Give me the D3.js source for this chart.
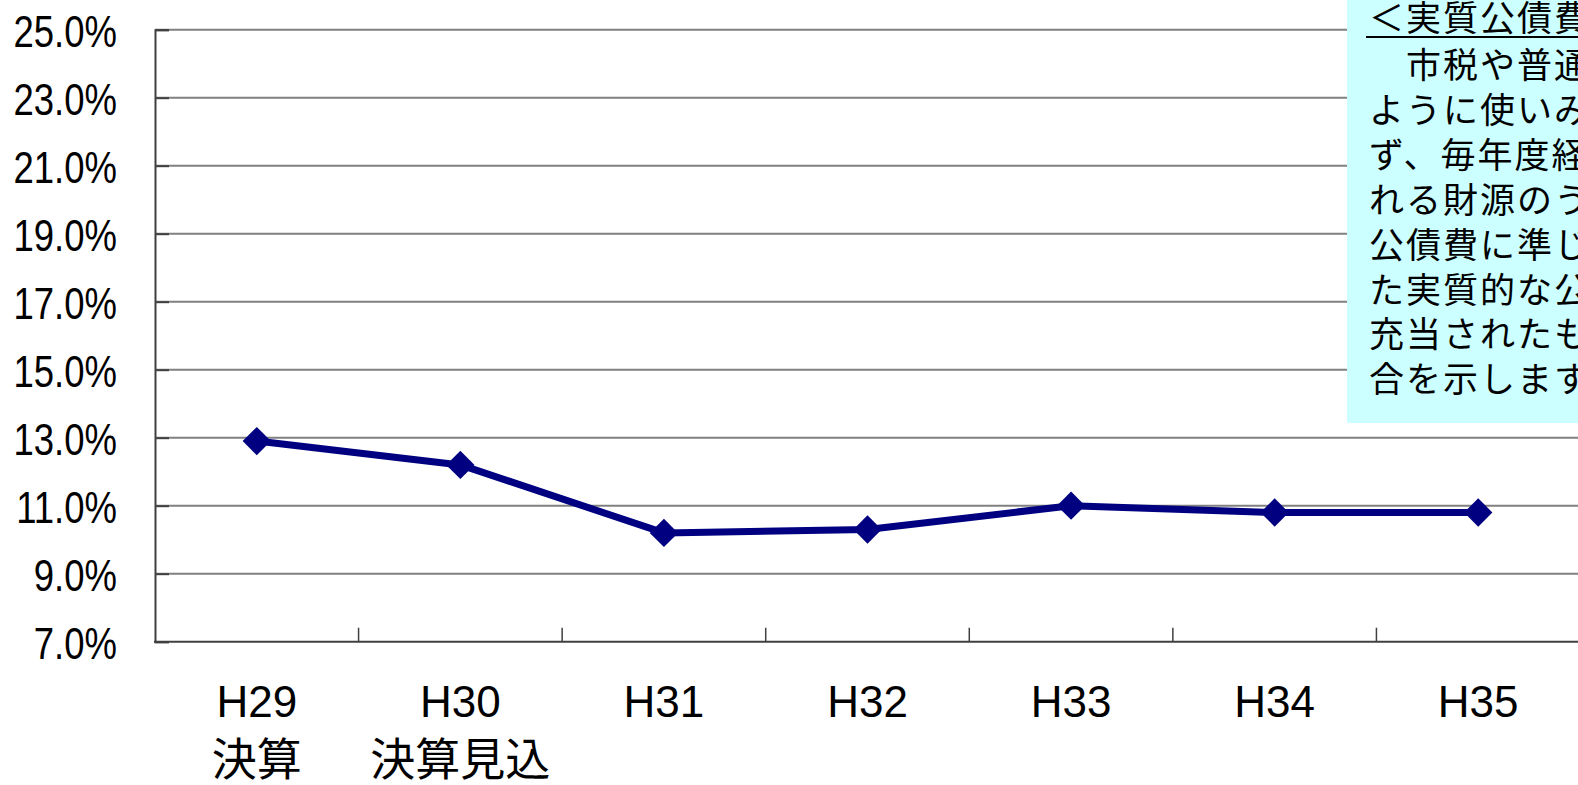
<!DOCTYPE html>
<html lang="ja">
<head>
<meta charset="UTF-8">
<title>実質公債費比率</title>
<script src="https://cdnjs.cloudflare.com/ajax/libs/d3/7.9.0/d3.min.js"></script>
<style>
  html,body{margin:0;padding:0;background:#fff;overflow:hidden}
  svg{display:block}
</style>
</head>
<body>
<div id="chart"></div>
<script>
/* ---------- data ---------- */
const categories = ["H29","H30","H31","H32","H33","H34","H35"];
const subLabels  = ["決算","決算見込","","","","",""];
const ratios     = [12.9,12.2,10.2,10.3,11.0,10.8,10.8];
const yTicks     = [7,9,11,13,15,17,19,21,23,25];
const noteTitle  = "＜実質公債費比率＞";
const noteLines  = [
  "　市税や普通交付税の",
  "ように使いみちが特定され",
  "ず、毎年度経常的に収入さ",
  "れる財源のうち、公債費や",
  "公債費に準じる経費に充て",
  "た実質的な公債費相当額に",
  "充当されたものの占める割",
  "合を示します。"
];

/* ---------- layout ---------- */
const W = 1578, H = 785;
const plotL = 155, plotR = 1580, plotT = 29.7, plotB = 641.7;

const svg = d3.select("#chart").append("svg")
    .attr("width",W).attr("height",H);

const x = d3.scaleBand().domain(categories).range([plotL,plotR]).padding(0);
const y = d3.scaleLinear().domain([7,25]).range([plotB,plotT]);

// gridlines
svg.append("g").selectAll("line")
  .data(yTicks.filter(d=>d>7))
  .enter().append("line")
    .attr("x1",plotL).attr("x2",W)
    .attr("y1",d=>y(d)).attr("y2",d=>y(d))
    .attr("stroke","#808080").attr("stroke-width",2);

// y axis with inward ticks
const yAxis = svg.append("g")
  .attr("transform",`translate(${plotL},0)`)
  .call(d3.axisRight(y).tickValues(yTicks).tickSize(14).tickFormat(""));
yAxis.selectAll("line").attr("stroke","#404040").attr("stroke-width",2);
yAxis.select(".domain").attr("stroke","#404040").attr("stroke-width",2);

// y labels (condensed horizontally like the narrow gothic of the original)
svg.append("g").selectAll("text")
  .data(yTicks)
  .enter().append("text")
    .attr("transform",d=>`translate(117,${y(d)+2}) scale(0.83,1)`)
    .attr("text-anchor","end").attr("dominant-baseline","central")
    .attr("font-family","'Liberation Sans',Arial,sans-serif")
    .attr("font-size",44).attr("fill","#000")
    .text(d=>d.toFixed(1)+"%");

// x axis: ticks at category boundaries, pointing up
const xg = svg.append("g");
xg.append("line")
  .attr("x1",plotL-1).attr("x2",W)
  .attr("y1",plotB).attr("y2",plotB)
  .attr("stroke","#404040").attr("stroke-width",2);
xg.selectAll("line.tick")
  .data(categories.slice(1))
  .enter().append("line").attr("class","tick")
    .attr("x1",d=>x(d)).attr("x2",d=>x(d))
    .attr("y1",plotB).attr("y2",plotB-14)
    .attr("stroke","#404040").attr("stroke-width",1.5);

// x labels
xg.selectAll("text.cat")
  .data(categories)
  .enter().append("text").attr("class","cat")
    .attr("x",d=>x(d)+x.bandwidth()/2).attr("y",717)
    .attr("text-anchor","middle")
    .attr("font-family","'Liberation Sans',Arial,sans-serif")
    .attr("font-size",44).attr("fill","#000")
    .text(d=>d);
xg.selectAll("text.sub")
  .data(categories.map((c,i)=>({c,t:subLabels[i]})).filter(d=>d.t))
  .enter().append("text").attr("class","sub")
    .attr("x",d=>x(d.c)+x.bandwidth()/2).attr("y",776)
    .attr("text-anchor","middle")
    .attr("font-family","'Noto Sans CJK JP',sans-serif")
    .attr("font-size",45).attr("fill","#000")
    .text(d=>d.t);

// note box
const note = svg.append("g");
note.append("rect")
  .attr("x",1347).attr("y",-2).attr("width",W-1347+2).attr("height",425)
  .attr("fill","#ccffff");
note.append("text")
  .attr("x",1369).attr("y",31)
  .attr("font-family","'Noto Sans CJK JP',sans-serif")
  .attr("font-size",35).attr("letter-spacing",2).attr("fill","#000")
  .text(noteTitle);
note.append("line")
  .attr("x1",1366).attr("x2",W)
  .attr("y1",37).attr("y2",37)
  .attr("stroke","#000").attr("stroke-width",2);
note.selectAll("text.body")
  .data(noteLines)
  .enter().append("text").attr("class","body")
    .attr("x",1369).attr("y",(d,i)=>78+i*44.9)
    .attr("font-family","'Noto Sans CJK JP',sans-serif")
    .attr("font-size",35).attr("letter-spacing",2).attr("fill","#000")
    .text(d=>d);

// series line + diamond markers
const pts = categories.map((c,i)=>[x(c)+x.bandwidth()/2, y(ratios[i])]);
svg.append("path")
  .attr("d",d3.line()(pts))
  .attr("fill","none").attr("stroke","#000080")
  .attr("stroke-width",7).attr("stroke-linejoin","round");
svg.append("g").selectAll("path")
  .data(pts)
  .enter().append("path")
    .attr("transform",d=>`translate(${d[0]},${d[1]})`)
    .attr("d",d3.symbol(d3.symbolDiamond2,16*16*2))
    .attr("fill","#000080");
</script>
</body>
</html>
